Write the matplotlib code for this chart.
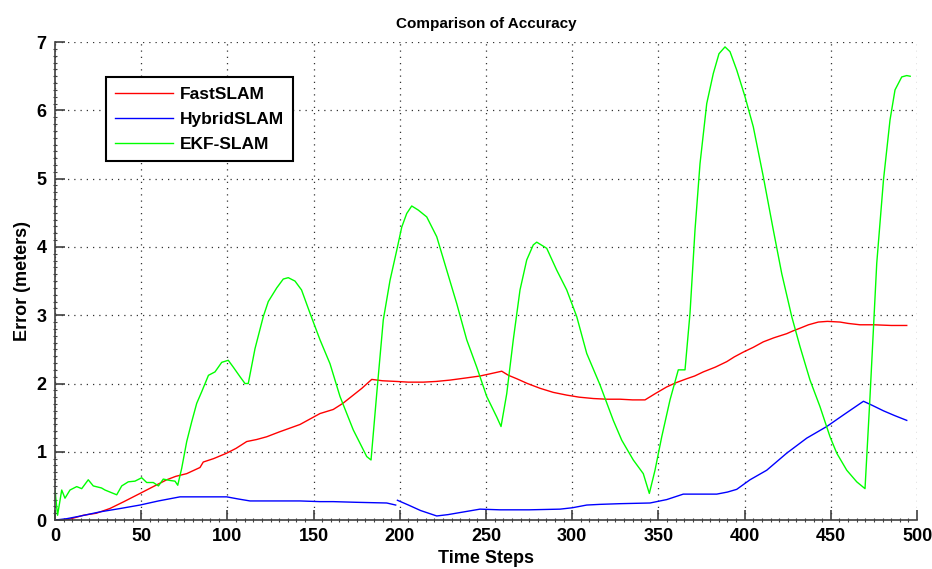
import numpy as np
from matplotlib import pyplot as plt
from matplotlib.ticker import MultipleLocator

plt.rcParams["font.family"] = ["Liberation Sans", "DejaVu Sans"]

# FastSLAM
fast_x = [0, 8, 16.4, 24, 31.9, 40, 49.3, 57, 64.8, 70, 76.4, 84.1, 86, 92, 99.6, 105, 111.2, 117, 122.8,
          130, 142.1, 153.7, 161.4, 167, 173, 178, 183.7, 190, 198.2, 205, 213.6, 221, 229.1, 238, 246.5,
          252, 259.1, 263, 267.8, 274, 281.3, 289, 296.8, 304, 312.2, 320, 327.7, 335, 342.2, 348, 354.8,
          360, 366.4, 371, 376, 383, 389.6, 394, 399.2, 405, 410.8, 417, 424.4, 428, 432.1, 437, 442.7,
          448, 455.3, 460, 466.9, 475, 485, 494]
fast_y = [0.0, 0.01, 0.07, 0.1, 0.17, 0.27, 0.39, 0.49, 0.59, 0.64, 0.68, 0.77, 0.85, 0.9, 0.98, 1.05,
          1.15, 1.18, 1.22, 1.29, 1.4, 1.56, 1.62, 1.71, 1.83, 1.93, 2.06, 2.04, 2.03, 2.02, 2.02, 2.03,
          2.05, 2.08, 2.11, 2.14, 2.18, 2.12, 2.07, 2.0, 1.93, 1.87, 1.83, 1.8, 1.78, 1.77, 1.77, 1.76,
          1.76, 1.85, 1.95, 2.01, 2.07, 2.11, 2.17, 2.24, 2.32, 2.39, 2.46, 2.53, 2.61, 2.67, 2.73, 2.77,
          2.81, 2.86, 2.9, 2.91, 2.9, 2.88, 2.86, 2.86, 2.85, 2.85]

# HybridSLAM (two pieces, break at step 200)
hyb1_x = [0, 6.8, 15, 26.1, 38, 49.3, 60, 72.5, 85, 99.6, 106, 113.1, 125, 142.1, 153.7, 161.4, 175,
          192.4, 197.6]
hyb1_y = [0.0, 0.02, 0.06, 0.12, 0.17, 0.22, 0.28, 0.34, 0.34, 0.34, 0.31, 0.28, 0.28, 0.28, 0.27,
          0.27, 0.26, 0.25, 0.22]
hyb2_x = [198.6, 205, 212, 221.4, 228, 234.9, 246.5, 258.1, 275, 292.9, 300, 308.4, 316.1, 327.7, 345.1,
          354.8, 364.4, 375, 383.8, 390, 395.4, 403.1, 412.8, 424.4, 436, 447.6, 457.3, 468.9, 474,
          480.5, 487, 494]
hyb2_y = [0.29, 0.22, 0.14, 0.06, 0.08, 0.11, 0.16, 0.15, 0.15, 0.16, 0.18, 0.22, 0.23, 0.24, 0.25,
          0.3, 0.38, 0.38, 0.38, 0.41, 0.45, 0.59, 0.73, 0.98, 1.2, 1.37, 1.54, 1.74, 1.68, 1.6, 1.53,
          1.46]

# EKF-SLAM
ekf_x = [0, 1.5, 3.9, 5.8, 8.7, 12.6, 15.5, 19.3, 22.2, 27, 29, 35.8, 38.7, 42.5, 46.4, 50.3, 53.2, 57,
         60, 62.8, 66.7, 69.6, 71.2, 73.5, 76.4, 79.3, 82.2, 85.1, 89, 92.8, 96.7, 100.5, 103.4, 107.3,
         110.2, 112.1, 116, 120.8, 123.7, 128.6, 132.4, 135.3, 139.2, 143, 147.9, 153.7, 159.5, 165.3,
         173, 180.8, 183.3, 186.6, 190.4, 194.3, 198.2, 201.1, 204, 206.9, 210.7, 215.6, 221.4, 227.2,
         233, 238.8, 244.6, 250.4, 256.2, 258.7, 262, 265.8, 269.7, 273.6, 277.4, 279.4, 285.2, 291,
         296.8, 302.6, 308.4, 316.1, 323.8, 328.7, 335.4, 341.2, 344.7, 348, 351.9, 356.7, 361.5, 365.4,
         368.3, 371.2, 374.1, 378, 381.8, 385.1, 388.6, 391.5, 395.4, 400.2, 405, 410.8, 416.6, 421.5,
         427.3, 432.1, 437.9, 443.7, 449.5, 453.4, 459.2, 465, 469.8, 472.7, 476.6, 480.5, 484.3, 487.2,
         491.1, 494, 496]
ekf_y = [0.44, 0.07, 0.44, 0.32, 0.44, 0.49, 0.46, 0.59, 0.5, 0.47, 0.44, 0.37, 0.5, 0.56, 0.57, 0.62,
         0.55, 0.55, 0.5, 0.6, 0.58, 0.57, 0.51, 0.76, 1.15, 1.44, 1.71, 1.88, 2.12, 2.17, 2.31, 2.34,
         2.24, 2.1, 2.0, 2.0, 2.51, 2.98, 3.2, 3.4, 3.53, 3.55, 3.5, 3.37, 3.03, 2.64, 2.29, 1.81, 1.32,
         0.93, 0.88, 1.85, 2.93, 3.51, 3.95, 4.29, 4.49, 4.6, 4.54, 4.44, 4.15, 3.66, 3.17, 2.64, 2.24,
         1.81, 1.51, 1.37, 1.85, 2.64, 3.37, 3.81, 4.03, 4.07, 3.98, 3.66, 3.37, 2.98, 2.44, 1.98, 1.46,
         1.17, 0.88, 0.68, 0.39, 0.73, 1.22, 1.76, 2.2, 2.2, 3.03, 4.25, 5.22, 6.1, 6.54, 6.83, 6.93,
         6.86, 6.59, 6.2, 5.76, 5.03, 4.25, 3.61, 2.98, 2.54, 2.05, 1.66, 1.22, 0.98, 0.73, 0.56, 0.46,
         1.81, 3.76, 4.98, 5.86, 6.3, 6.49, 6.51, 6.5]

axis_gray = "#404040"

fig = plt.figure(figsize=(9.32, 5.69), dpi=100)
ax = fig.add_axes([0.059, 0.086, 0.925, 0.840])

ax.plot(fast_x, fast_y, color="#ff0000", lw=1.0, label="FastSLAM")
ax.plot(hyb1_x, hyb1_y, color="#0000ff", lw=1.0, label="HybridSLAM")
ax.plot(hyb2_x, hyb2_y, color="#0000ff", lw=1.0)
ax.plot(ekf_x, ekf_y, color="#00ff00", lw=1.0, label="EKF-SLAM")

ax.set_xlim(0, 500)
ax.set_ylim(0, 7)
ax.set_xticks(np.arange(0, 501, 50))
ax.set_yticks(np.arange(0, 8, 1))
ax.xaxis.set_minor_locator(MultipleLocator(5))
ax.yaxis.set_minor_locator(MultipleLocator(0.1))
ax.grid(True, which="major", linestyle=(0, (1, 4)), color="#333333", lw=0.9)

# MATLAB-like box: only left and bottom solid, the rest is the dotted grid
ax.spines["top"].set_visible(False)
ax.spines["right"].set_visible(False)
for sp in ("left", "bottom"):
    ax.spines[sp].set_color(axis_gray)
    ax.spines[sp].set_linewidth(1.2)
ax.tick_params(which="major", direction="in", length=7, width=1.2, color=axis_gray,
               labelsize=13, pad=6)
ax.tick_params(which="minor", direction="inout", length=3, width=0.8, color=axis_gray)
for lbl in ax.get_xticklabels() + ax.get_yticklabels():
    lbl.set_fontweight("bold")

ax.set_xlabel("Time Steps", fontsize=13, fontweight="bold", labelpad=3)
ax.set_ylabel("Error (meters)", fontsize=13, fontweight="bold", labelpad=4)
ax.set_title("Comparison of Accuracy", fontsize=11, fontweight="bold", pad=10)

leg = ax.legend(loc="upper left", bbox_to_anchor=(0.0588, 0.926), borderaxespad=0,
                prop={"size": 12.5, "weight": "bold"}, fancybox=False, framealpha=1,
                edgecolor="black", handlelength=3.3, handletextpad=0.4, borderpad=0.55,
                labelspacing=0.55)
leg.get_frame().set_linewidth(1.5)

fig.savefig("out.png", dpi=100)
